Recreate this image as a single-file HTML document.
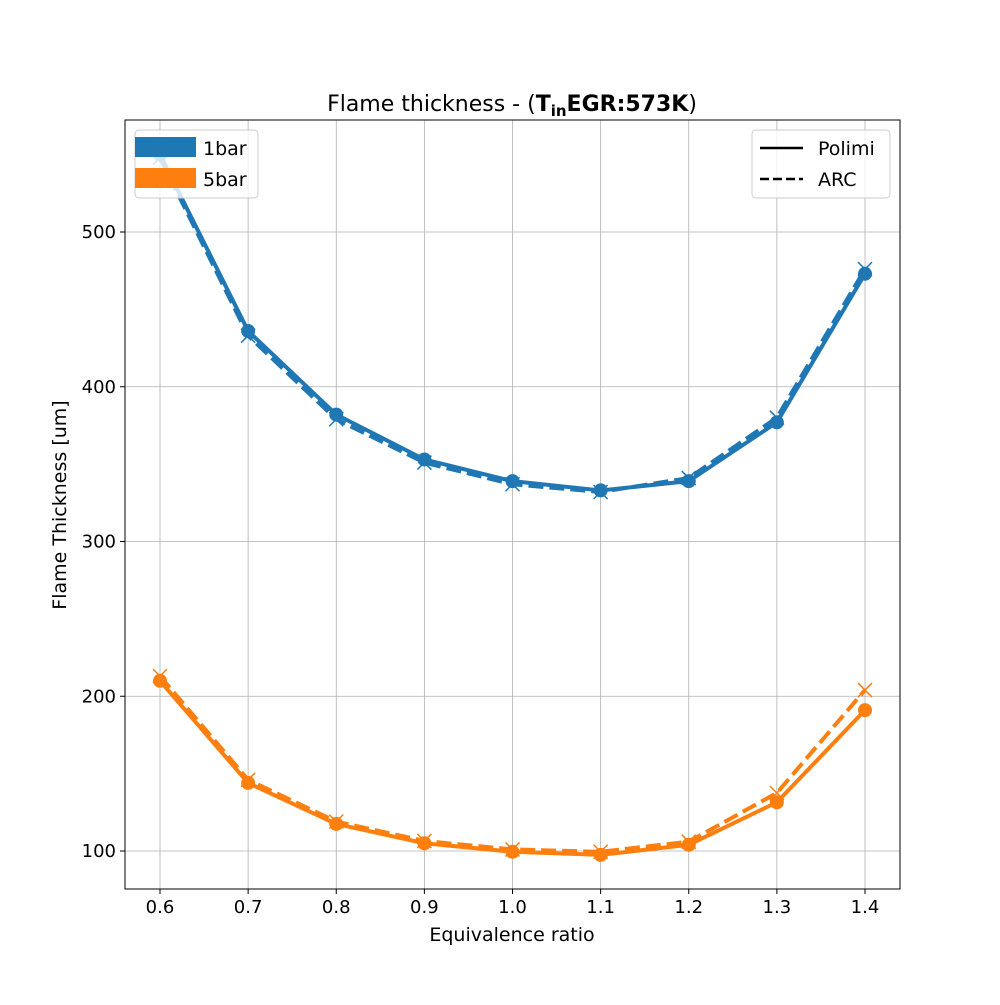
<!DOCTYPE html>
<html><head><meta charset="utf-8"><style>
body{margin:0;background:#fff;font-family:"Liberation Sans","DejaVu Sans",sans-serif}
svg text{font-family:"DejaVu Sans","Liberation Sans",sans-serif}
</style></head><body>
<svg id="c" width="1000" height="1000" viewBox="0 0 1000 1000"></svg>
<script>
const categories=[0.6,0.7,0.8,0.9,1.0,1.1,1.2,1.3,1.4];
const polimi1bar=[550,436,382,353,339,333,339,377,473];
const arc1bar=[548,433,379,351,337,332,341,380,476];
const polimi5bar=[210,144,117.5,105,99.5,97.5,104,131.5,191];
const arc5bar=[213,146,119,106.5,101,99.5,106,137.5,204];
const xTicks=[0.6,0.7,0.8,0.9,1.0,1.1,1.2,1.3,1.4];
const yTicks=[100,200,300,400,500];
const L=125,R=900,T=120,B=889;
const xs=v=>160+(v-0.6)/0.8*705;
const ys=v=>851-(v-100)*1.5475;
const svg=document.getElementById('c');
const NS='http://www.w3.org/2000/svg';
function mk(tag,attrs,parent){const e=document.createElementNS(NS,tag);for(const k in attrs)e.setAttribute(k,attrs[k]);(parent||svg).appendChild(e);return e;}
const grid=mk('g',{});


xTicks.forEach(t=>{mk('line',{x1:xs(t),x2:xs(t),y1:T,y2:B,stroke:'#b0b0b0','stroke-width':0.8},grid);});
yTicks.forEach(t=>{mk('line',{x1:L,x2:R,y1:ys(t),y2:ys(t),stroke:'#b0b0b0','stroke-width':0.8},grid);});
xTicks.forEach(t=>{mk('line',{x1:xs(t),x2:xs(t),y1:B,y2:B+5,stroke:'#000'});
const tx=mk('text',{x:xs(t),y:B+24,'font-size':18,'text-anchor':'middle'});tx.textContent=t.toFixed(1);

});
yTicks.forEach(t=>{mk('line',{x1:L-5,x2:L,y1:ys(t),y2:ys(t),stroke:'#000'});
const tx=mk('text',{x:L-9,y:ys(t)+6,'font-size':18,'text-anchor':'end'});tx.textContent=t;

});
function series(vals,color,dash,marker,name){
 const g=mk('g',{});
 
 
 const pts=vals.map((v,i)=>xs(categories[i])+','+ys(v)).join(' ');
 mk('polyline',{points:pts,fill:'none',stroke:color,'stroke-width':4,'stroke-dasharray':dash||'none','stroke-linejoin':'round'},g);
 vals.forEach((v,i)=>{const x=xs(categories[i]),y=ys(v);
  if(marker==='o'){mk('circle',{cx:x,cy:y,r:7,fill:color},g);}
  else{mk('path',{d:`M${x-7},${y-7}L${x+7},${y+7}M${x-7},${y+7}L${x+7},${y-7}`,stroke:color,'stroke-width':1.5},g);}
 });
}
series(polimi1bar,'#1f77b4','','o','series-1bar-polimi');
series(arc1bar,'#1f77b4','15,6','x','series-1bar-arc');
series(polimi5bar,'#ff7f0e','','o','series-5bar-polimi');
series(arc5bar,'#ff7f0e','15,6','x','series-5bar-arc');
const fr=mk('rect',{x:L,y:T,width:R-L,height:B-T,fill:'none',stroke:'#000','stroke-width':1});


</script>
<svg width="1000" height="1000" style="position:absolute;left:0;top:0">
<text x="512" y="111" font-size="22" text-anchor="middle">Flame thickness - (<tspan font-weight="bold">T</tspan><tspan font-weight="bold" font-size="15" dy="5">in</tspan><tspan font-weight="bold" dy="-5">EGR:573K</tspan>)</text>
<text x="512" y="941" font-size="19" text-anchor="middle">Equivalence ratio</text>
<text transform="translate(66,505) rotate(-90)" font-size="19" text-anchor="middle">Flame Thickness [um]</text>
<g>
<rect x="135" y="130" width="123" height="68" rx="4" fill="rgba(255,255,255,0.8)" stroke="#ccc"/>
<rect x="135" y="137" width="61" height="20" fill="#1f77b4"/>
<text x="203" y="155" font-size="19">1bar</text>
<rect x="135" y="168" width="61" height="20" fill="#ff7f0e"/>
<text x="203" y="186" font-size="19">5bar</text>
</g>
<g>
<rect x="752" y="130" width="138" height="68" rx="4" fill="rgba(255,255,255,0.8)" stroke="#ccc"/>
<line x1="760" y1="148" x2="803" y2="148" stroke="#000" stroke-width="2.5"/>
<text x="818" y="155" font-size="19">Polimi</text>
<line x1="760" y1="179" x2="803" y2="179" stroke="#000" stroke-width="2.5" stroke-dasharray="9,4"/>
<text x="818" y="186" font-size="19">ARC</text>
</g>
</svg>
</body></html>
